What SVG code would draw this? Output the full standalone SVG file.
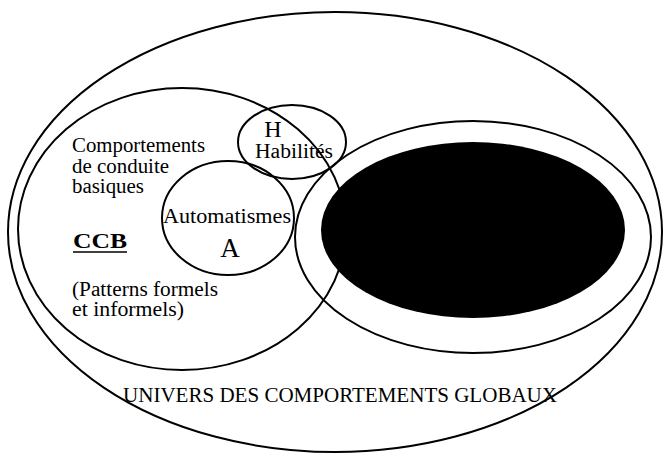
<svg xmlns="http://www.w3.org/2000/svg" width="667" height="458" viewBox="0 0 667 458">
<style>
.ln{fill:none;stroke:#000;stroke-width:2}
text{font-family:'Liberation Serif','Times New Roman',Times,serif;fill:#000}
</style>
<rect width="667" height="458" fill="#fff"/>
<g id="univers">
<ellipse class="ln" cx="335" cy="232" rx="327" ry="220"/>
<text x="123" y="402" font-size="21" textLength="434" lengthAdjust="spacingAndGlyphs">UNIVERS DES COMPORTEMENTS GLOBAUX</text>
</g>
<g id="ccb">
<ellipse class="ln" cx="182" cy="229" rx="164" ry="141"/>
<text x="72" y="152" font-size="20" textLength="133" lengthAdjust="spacingAndGlyphs">Comportements</text>
<text x="72" y="173" font-size="20" textLength="97" lengthAdjust="spacingAndGlyphs">de conduite</text>
<text x="72" y="193" font-size="20" textLength="72" lengthAdjust="spacingAndGlyphs">basiques</text>
<text x="73" y="248" font-size="20" font-weight="bold" textLength="54" lengthAdjust="spacingAndGlyphs">CCB</text>
<line x1="73" y1="252" x2="127" y2="252" stroke="#000" stroke-width="1.5"/>
<text x="72" y="296" font-size="20" textLength="146" lengthAdjust="spacingAndGlyphs">(Patterns formels</text>
<text x="72" y="316" font-size="20" textLength="112" lengthAdjust="spacingAndGlyphs">et informels)</text>
</g>
<g id="habilites">
<ellipse class="ln" cx="292" cy="142" rx="54" ry="37"/>
<text x="273" y="137" font-size="24" text-anchor="middle">H</text>
<text x="255" y="158" font-size="20" textLength="78" lengthAdjust="spacingAndGlyphs">Habilités</text>
</g>
<g id="automatismes">
<ellipse class="ln" cx="228" cy="218" rx="66" ry="57"/>
<text x="163" y="223" font-size="20" textLength="128" lengthAdjust="spacingAndGlyphs">Automatismes</text>
<text x="230" y="257" font-size="27" text-anchor="middle">A</text>
</g>
<g id="autre">
<ellipse class="ln" cx="473" cy="237" rx="178" ry="116"/>
<ellipse cx="473" cy="230" rx="152" ry="88" fill="#000"/>
</g>
<g id="connectors"></g>
</svg>
